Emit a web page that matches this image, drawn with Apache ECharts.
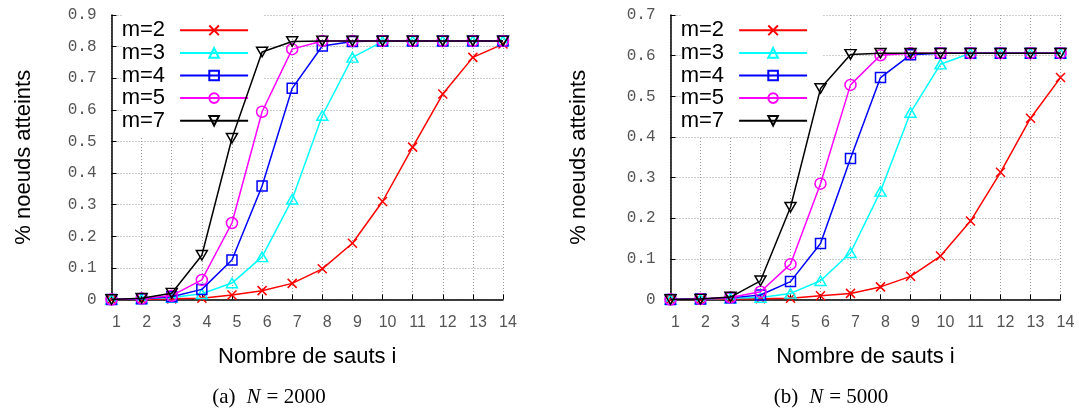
<!DOCTYPE html>
<html>
<head>
<meta charset="utf-8">
<script src="https://cdn.jsdelivr.net/npm/echarts@6/dist/echarts.min.js"></script>
<style>
html,body{margin:0;padding:0;background:#fff;}
#c{width:1079px;height:410px;}
</style>
</head>
<body>
<div id="c"></div>
<script>
// ---- data ----
const hops = [1, 2, 3, 4, 5, 6, 7, 8, 9, 10, 11, 12, 13, 14];
const seriesNames = ['m=2', 'm=3', 'm=4', 'm=5', 'm=7'];

// (a) N = 2000
const a_m2 = [0, 0, 0.002, 0.004, 0.014, 0.028, 0.051, 0.097, 0.178, 0.31, 0.482, 0.65, 0.766, 0.808];
const a_m3 = [0, 0.002, 0.006, 0.018, 0.052, 0.135, 0.317, 0.582, 0.766, 0.816, 0.818, 0.818, 0.818, 0.818];
const a_m4 = [0, 0.002, 0.009, 0.032, 0.125, 0.359, 0.668, 0.802, 0.816, 0.818, 0.818, 0.818, 0.818, 0.818];
const a_m5 = [0, 0.003, 0.012, 0.062, 0.242, 0.594, 0.792, 0.818, 0.818, 0.818, 0.818, 0.818, 0.818, 0.818];
const a_m7 = [0, 0.004, 0.02, 0.14, 0.51, 0.783, 0.816, 0.818, 0.818, 0.818, 0.818, 0.818, 0.818, 0.818];

// (b) N = 5000
const b_m2 = [0, 0, 0.001, 0.002, 0.003, 0.009, 0.015, 0.031, 0.057, 0.107, 0.193, 0.313, 0.446, 0.546];
const b_m3 = [0, 0.001, 0.003, 0.005, 0.015, 0.046, 0.115, 0.266, 0.46, 0.579, 0.606, 0.606, 0.606, 0.606];
const b_m4 = [0, 0.001, 0.004, 0.011, 0.044, 0.138, 0.347, 0.546, 0.602, 0.606, 0.606, 0.606, 0.606, 0.606];
const b_m5 = [0, 0.001, 0.005, 0.019, 0.087, 0.285, 0.528, 0.601, 0.606, 0.606, 0.606, 0.606, 0.606, 0.606];
const b_m7 = [0, 0.001, 0.006, 0.046, 0.227, 0.519, 0.603, 0.606, 0.606, 0.606, 0.606, 0.606, 0.606, 0.606];

const yMaxA = 0.9, yMaxB = 0.7, yStep = 0.1;
const xTitle = 'Nombre de sauts i';
const yTitle = '% noeuds atteints';
const captionA = ['(a)', 'N', '= 2000'];
const captionB = ['(b)', 'N', '= 5000'];

// ---- styles ----
const colors = ['#ff0000', '#00ffff', '#0000ff', '#ff00ff', '#000000'];
const symbols = [
  'path://M0,0L10,10M0,10L10,0',
  'path://M5,0L10,8.66L0,8.66Z',
  'path://M0,0L10,0L10,10L0,10Z',
  'circle',
  'path://M0,0L10,0L5,8.66Z'
];
const symbolSizes = [[9, 9], [11, 9.5], [10, 10], 11, [11, 9.5]];

const chart = echarts.init(document.getElementById('c'), null, {renderer: 'canvas'});

const grids = [
  {left: 111.5, top: 15, width: 391.5, height: 284.5},
  {left: 670.5, top: 15, width: 390, height: 284.5}
];

function xAxisDef(gi) {
  return {
    type: 'value', gridIndex: gi, min: 1, max: 14, interval: 1,
    name: xTitle, nameLocation: 'middle', nameGap: 46,
    nameTextStyle: {fontFamily: 'Liberation Sans', fontSize: 22, color: '#000'},
    axisLine: {show: true, onZero: false, lineStyle: {color: '#000', width: 1.5}},
    axisTick: {show: true, inside: true, length: 5, lineStyle: {color: '#000'}},
    axisLabel: {fontFamily: 'Liberation Sans', fontSize: 16, color: '#555', margin: 15,
      padding: [0, 0, 0, 10]},
    splitLine: {show: true, lineStyle: {color: '#999', type: [1, 2], width: 1}}
  };
}
function yAxisDef(gi, max, gap) {
  return {
    type: 'value', gridIndex: gi, min: 0, max: max, interval: yStep,
    name: yTitle, nameLocation: 'middle', nameGap: gap, nameRotate: 90,
    nameTextStyle: {fontFamily: 'Liberation Sans', fontSize: 22, color: '#000'},
    axisLine: {show: true, lineStyle: {color: '#000', width: 1.5}},
    axisTick: {show: true, inside: true, length: 5, lineStyle: {color: '#000'}},
    axisLabel: {fontFamily: 'Liberation Mono', fontSize: 16, color: '#555', margin: 15,
      formatter: v => v === 0 ? '0' : v.toFixed(1)},
    splitLine: {show: true, lineStyle: {color: '#999', type: [1, 2], width: 1}}
  };
}

function mkSeries(gi, arrs) {
  return arrs.map((arr, i) => ({
    name: seriesNames[i], type: 'line', xAxisIndex: gi, yAxisIndex: gi,
    data: hops.map((h, k) => [h, arr[k]]),
    symbol: symbols[i], symbolSize: symbolSizes[i], showSymbol: true,
    lineStyle: {color: colors[i], width: 1.5},
    itemStyle: {color: 'rgba(0,0,0,0)', borderColor: colors[i], borderWidth: 1.5},
    emphasis: {disabled: true}, animation: false, z: 2 + i
  }));
}

function legendDef(left) {
  return {
    data: seriesNames, orient: 'vertical', left: left, top: 15,
    padding: [4, 14, 4, 0], itemGap: 0, itemWidth: 68, itemHeight: 12,
    align: 'right', selectedMode: false, backgroundColor: '#fff', z: 1,
    textStyle: {fontFamily: 'Liberation Sans', fontSize: 22, color: '#000', lineHeight: 22.6,
      padding: [0, 10, 0, 0]}
  };
}

function caption(x, parts) {
  return {
    type: 'text', x: x, y: 397, z: 10,
    style: {
      text: '{n|' + parts[0] + '}{s|}{i|' + parts[1] + '}{s2|}{n|' + parts[2] + '}',
      align: 'center', verticalAlign: 'middle',
      rich: {
        n: {fontFamily: 'Liberation Serif', fontSize: 21, color: '#000'},
        i: {fontFamily: 'Liberation Serif', fontSize: 21, fontStyle: 'italic', color: '#000'},
        s: {width: 11}, s2: {width: 6}
      }
    }
  };
}

chart.setOption({
  animation: false,
  grid: grids,
  xAxis: [xAxisDef(0), xAxisDef(1)],
  yAxis: [yAxisDef(0, yMaxA, 77), yAxisDef(1, yMaxB, 81)],
  legend: [legendDef(121.7), legendDef(680.7)],
  series: mkSeries(0, [a_m2, a_m3, a_m4, a_m5, a_m7]).concat(mkSeries(1, [b_m2, b_m3, b_m4, b_m5, b_m7])),
  graphic: [caption(269, captionA), caption(831, captionB)]
});
</script>
</body>
</html>
